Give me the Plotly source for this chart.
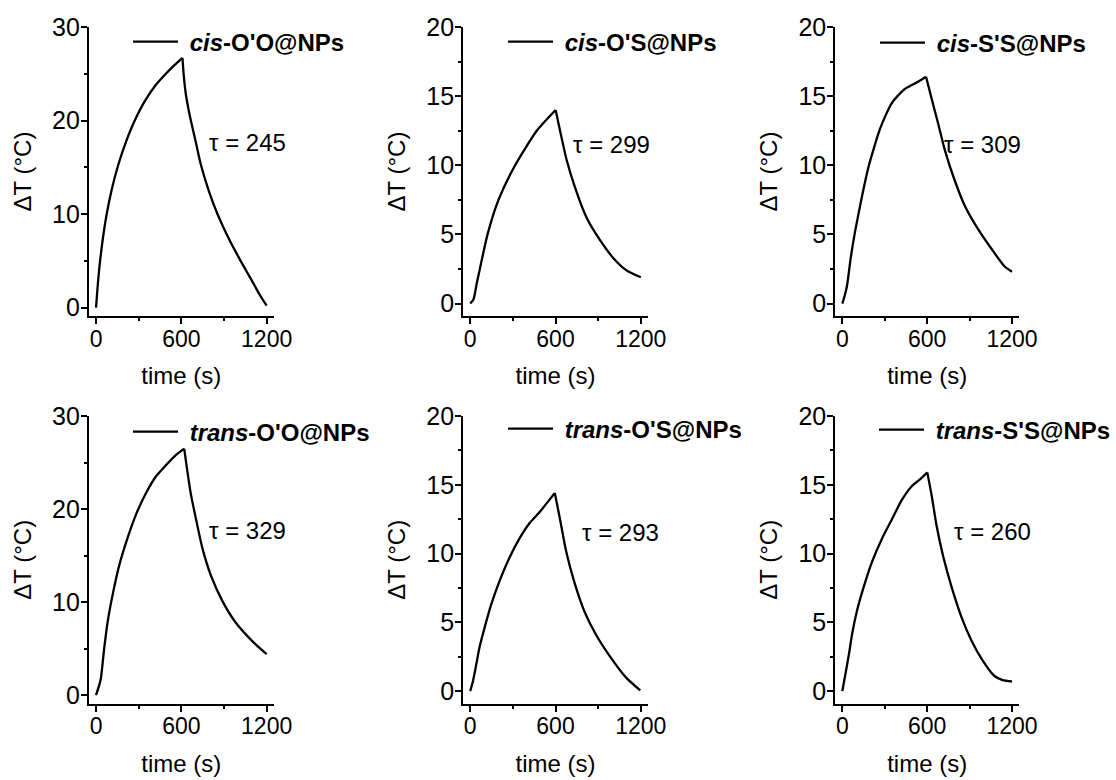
import plotly.graph_objects as go
from plotly.subplots import make_subplots

# ---------------- data ----------------
panel_labels = [
    "<b>\u00a0<i>cis</i>-O'O@NPs</b>",
    "<b>\u00a0<i>cis</i>-O'S@NPs</b>",
    "<b>\u00a0<i>cis</i>-S'S@NPs</b>",
    "<b>\u00a0<i>trans</i>-O'O@NPs</b>",
    "<b>\u00a0<i>trans</i>-O'S@NPs</b>",
    "<b>\u00a0<i>trans</i>-S'S@NPs</b>",
]
tau_labels = ["τ = 245", "τ = 299", "τ = 309", "τ = 329", "τ = 293", "τ = 260"]

cis_OO_t = [0, 10, 25, 50, 75, 110, 157, 210, 269, 340, 420, 491, 550, 608,
            616, 630, 648, 667, 700, 737, 795, 854, 936, 1017, 1099, 1150, 1200]
cis_OO_dT = [0, 2.0, 4.5, 7.6, 10.0, 12.6, 15.3, 17.7, 19.9, 22.0, 23.8, 25.0, 25.9, 26.7,
             25.0, 23.0, 21.4, 20.0, 17.8, 15.3, 12.4, 10.0, 7.3, 5.0, 2.8, 1.4, 0.2]

cis_OS_t = [0, 23, 47, 70, 122, 199, 316, 468, 601,
            632, 678, 737, 819, 912, 1006, 1099, 1200]
cis_OS_dT = [0, 0.3, 1.5, 2.6, 5.0, 7.5, 10.0, 12.5, 14.0,
             12.5, 10.4, 8.4, 6.2, 4.6, 3.3, 2.4, 1.9]

cis_SS_t = [0, 19, 35, 58, 90, 140, 188, 225, 262, 310, 350, 390, 440, 491, 545, 592,
            632, 678, 725, 795, 865, 959, 1052, 1146, 1200]
cis_SS_dT = [0, 0.65, 1.4, 3.2, 5.2, 7.8, 10.0, 11.3, 12.5, 13.7, 14.5, 15.0, 15.5, 15.8, 16.1, 16.4,
             14.8, 13.0, 11.1, 8.9, 7.1, 5.4, 4.0, 2.7, 2.3]

trans_OO_t = [0, 23, 35, 58, 82, 117, 164, 222, 281, 351, 421, 491, 561, 620,
              643, 667, 702, 748, 807, 889, 982, 1099, 1200]
trans_OO_dT = [0, 1.1, 1.9, 5.1, 7.9, 10.8, 14.0, 16.9, 19.4, 21.7, 23.5, 24.7, 25.8, 26.5,
               24.0, 21.6, 19.0, 15.8, 12.9, 10.1, 7.8, 5.8, 4.4]

trans_OS_t = [0, 19, 42, 66, 101, 148, 206, 276, 347, 417, 487, 557, 595,
              628, 674, 733, 803, 885, 978, 1095, 1196]
trans_OS_dT = [0, 0.7, 1.9, 3.2, 4.6, 6.3, 8.0, 9.7, 11.1, 12.2, 13.0, 13.9, 14.4,
               12.7, 10.2, 7.9, 5.8, 4.1, 2.6, 1.0, 0.05]

trans_SS_t = [0, 23, 47, 70, 105, 152, 210, 281, 351, 421, 491, 561, 601,
              632, 667, 713, 772, 842, 912, 994, 1076, 1134, 1200]
trans_SS_dT = [0, 1.3, 2.7, 4.2, 5.9, 7.6, 9.4, 11.1, 12.5, 13.9, 14.9, 15.5, 15.9,
               14.2, 12.0, 9.8, 7.6, 5.4, 3.7, 2.2, 1.1, 0.8, 0.7]

y_max = [30, 20, 20, 30, 20, 20]
y_major = [10, 5, 5, 10, 5, 5]
x_ticks = [0, 600, 1200]

series = [(cis_OO_t, cis_OO_dT), (cis_OS_t, cis_OS_dT), (cis_SS_t, cis_SS_dT),
          (trans_OO_t, trans_OO_dT), (trans_OS_t, trans_OS_dT), (trans_SS_t, trans_SS_dT)]

# ---------------- layout geometry ----------------
W, H = 1116, 780
col_px = [(89, 274), (463.5, 648.5), (836, 1020)]
row_px = [(27, 316), (416, 703.5)]
legend_px = [(128, 42), (503, 42), (875, 43), (128, 432), (503, 429), (875, 430)]
tau_pos = [(781, 17.6), (711, 11.5), (704, 11.5), (781, 17.65), (771, 11.5), (774, 11.6)]

FONT = "Liberation Sans, Arial, Helvetica, sans-serif"
INK = "#000000"

fig = make_subplots(rows=2, cols=3)

for i, (t, v) in enumerate(series):
    r, c = i // 3 + 1, i % 3 + 1
    k = v.index(max(v))
    leg = "legend" if i == 0 else f"legend{i+1}"
    style = dict(color=INK, width=2.3, shape="spline", smoothing=0.6)
    fig.add_trace(go.Scatter(x=t[:k+1], y=v[:k+1], mode="lines", line=style,
                             name=panel_labels[i], legend=leg, showlegend=True),
                  row=r, col=c)
    fig.add_trace(go.Scatter(x=t[k:], y=v[k:], mode="lines", line=style,
                             name=panel_labels[i], legend=leg, showlegend=False),
                  row=r, col=c)

layout = {}
annotations = []
for i in range(6):
    r, c = i // 3, i % 3
    xn = "xaxis" if i == 0 else f"xaxis{i+1}"
    yn = "yaxis" if i == 0 else f"yaxis{i+1}"
    x0, x1 = col_px[c]
    top, bot = row_px[r]
    layout[xn] = dict(
        domain=[x0 / W, x1 / W], range=[-50, 1250], tickvals=x_ticks,
        ticks="outside", ticklen=6, tickwidth=2, tickcolor=INK, ticklabelstandoff=-5,
        showline=True, linewidth=2, linecolor=INK, showgrid=False, zeroline=False,
        minor=dict(tick0=0, dtick=300, ticks="outside", ticklen=3, tickwidth=1.5, tickcolor=INK),
        tickfont=dict(family=FONT, size=23, color=INK),
        title=dict(text="time (s)", font=dict(family=FONT, size=24, color=INK), standoff=17),
        automargin=False, fixedrange=True,
    )
    layout[yn] = dict(
        domain=[1 - bot / H, 1 - top / H], range=[-0.9, y_max[i]], dtick=y_major[i], tick0=0,
        ticks="outside", ticklen=6, tickwidth=2, tickcolor=INK, ticklabelstandoff=-4,
        showline=True, linewidth=2, linecolor=INK, showgrid=False, zeroline=False,
        minor=dict(tick0=0, dtick=y_major[i] / 2, ticks="outside", ticklen=3, tickwidth=1.5, tickcolor=INK),
        tickfont=dict(family=FONT, size=25, color=INK),
        title=dict(text="ΔT (°C)", font=dict(family=FONT, size=24, color=INK), standoff=14),
        automargin=False, fixedrange=True,
    )
    lx, ly = legend_px[i]
    ln = "legend" if i == 0 else f"legend{i+1}"
    layout[ln] = dict(
        x=lx / W, y=1 - ly / H, xanchor="left", yanchor="middle",
        bgcolor="rgba(0,0,0,0)", borderwidth=0, itemwidth=45,
        font=dict(family=FONT, size=24, color=INK),
    )
    tx, ty = tau_pos[i]
    annotations.append(dict(
        x=tx, y=ty, xref="x" if i == 0 else f"x{i+1}", yref="y" if i == 0 else f"y{i+1}",
        text=tau_labels[i], showarrow=False, xanchor="left", yanchor="middle",
        font=dict(family=FONT, size=24, color=INK),
    ))

fig.update_layout(**layout)
fig.update_layout(
    width=W, height=H, margin=dict(l=0, r=0, t=0, b=0),
    paper_bgcolor="white", plot_bgcolor="white",
    annotations=annotations,
    font=dict(family=FONT, color=INK),
)

fig.write_html("out.html", config={"displayModeBar": False})
